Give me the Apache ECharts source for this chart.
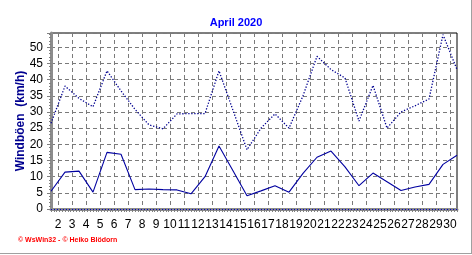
<!DOCTYPE html>
<html>
<head>
<meta charset="utf-8">
<script src="https://cdn.jsdelivr.net/npm/echarts@6/dist/echarts.min.js"></script>
<style>
html,body{margin:0;padding:0;background:#fff;}
#chart{width:472px;height:255px;}
</style>
</head>
<body>
<div id="chart"></div>
<script>
// ---- data ----
const days = ['1','2','3','4','5','6','7','8','9','10','11','12','13','14','15','16','17','18','19','20','21','22','23','24','25','26','27','28','29','30'];
const dayLabels = ['2','3','4','5','6','7','8','9','10','11','12','13','14','15','16','17','18','19','20','21','22','23','24','25','26','27','28','29','30'];
const gusts = [26.5,38.0,34.2,31.6,42.7,36.5,30.8,26.0,24.8,29.4,29.5,29.5,42.7,30.5,18.3,25.0,29.4,25.0,35.0,47.2,43.1,40.5,27.2,38.2,25.0,30.0,31.9,34.0,53.9,43.1];
const wind = [5.5,11.4,11.7,5.2,17.5,16.9,6.0,6.2,6.0,5.9,4.7,10.0,19.5,11.8,4.1,5.6,7.2,5.2,11.0,16.0,17.9,13.0,7.2,11.1,8.4,5.7,6.8,7.6,13.8,16.6];
const yTicks = [0,5,10,15,20,25,30,35,40,45,50];
const titleText = 'April 2020';
const yName = 'Windböen  (km/h)';
const footer = '© WsWin32 - © Heiko Blödorn';

const FONT = '"Liberation Sans", Arial, sans-serif';
const chart = echarts.init(document.getElementById('chart'), null, {renderer:'canvas'});
const option = {
  animation:false,
  backgroundColor:'#ffffff',
  title:{
    text:titleText, left:'center', top:12,
    textStyle:{color:'#0000ff', fontSize:11, fontWeight:'bold', fontFamily:FONT}
  },
  grid:{left:51, right:15, top:33, bottom:46, show:true, borderColor:'#000', borderWidth:1, backgroundColor:'transparent'},
  xAxis:[
    {type:'category', data:days, boundaryGap:false,
     axisLine:{show:true, lineStyle:{color:'#8c8c8c', width:3}},
     axisTick:{show:false}, axisLabel:{show:false}, splitLine:{show:false}},
    {type:'category', data:dayLabels, boundaryGap:true, position:'bottom',
     axisLine:{show:false}, axisTick:{show:false},
     axisLabel:{show:true, interval:0, margin:10, color:'#000', fontSize:12, fontFamily:FONT},
     splitLine:{show:true, alignWithLabel:true, lineStyle:{color:'#7a7a7a', type:[4,3], width:1}}},
    {type:'value', min:0, max:29, interval:1, position:'bottom',
     axisLine:{show:false}, axisLabel:{show:false}, splitLine:{show:false},
     axisTick:{show:true, length:3, lineStyle:{color:'#808080'}},
     minorTick:{show:true, splitNumber:5, length:3, lineStyle:{color:'#808080'}}}
  ],
  yAxis:{
    type:'value', min:0, max:54.4, interval:5,
    name:yName, nameLocation:'middle', nameRotate:90, nameGap:24, nameMoveOverlap:false,
    nameTextStyle:{color:'#000090', fontSize:12, fontWeight:'bold', fontFamily:FONT},
    axisLine:{show:true, lineStyle:{color:'#8c8c8c', width:3}},
    axisTick:{show:true, length:4, lineStyle:{color:'#808080'}},
    minorTick:{show:true, splitNumber:5, length:2, lineStyle:{color:'#808080'}},
    axisLabel:{show:true, margin:8, color:'#000', fontSize:12, fontFamily:FONT, showMaxLabel:false,
      formatter:v=> yTicks.indexOf(v)>=0 ? String(v) : ''},
    splitLine:{show:true, lineStyle:{color:'#7a7a7a', type:[4,3], width:1}}
  },
  series:[
    {name:'Böen', type:'line', xAxisIndex:0, data:gusts, symbol:'none',
     lineStyle:{color:'#000090', width:1.3, type:[1.3,1.7]}},
    {name:'Wind', type:'line', xAxisIndex:0, data:wind, symbol:'none',
     lineStyle:{color:'#0000a0', width:1.1},
     markLine:{silent:true, symbol:'none', label:{show:false},
       lineStyle:{color:'#0000c0', type:[1,2], width:1},
       data:[{yAxis:0}]}}
  ],
  graphic:[
    {type:'text', left:18, top:237, style:{text:footer, fill:'#ff0000', font:'bold 7px '+FONT}},
    {type:'line', shape:{x1:471.5, y1:0, x2:471.5, y2:254}, style:{stroke:'#a0a0a0', lineWidth:1}},
    {type:'line', shape:{x1:0, y1:253.5, x2:472, y2:253.5}, style:{stroke:'#a0a0a0', lineWidth:1}}
  ]
};
chart.setOption(option);
</script>
</body>
</html>
